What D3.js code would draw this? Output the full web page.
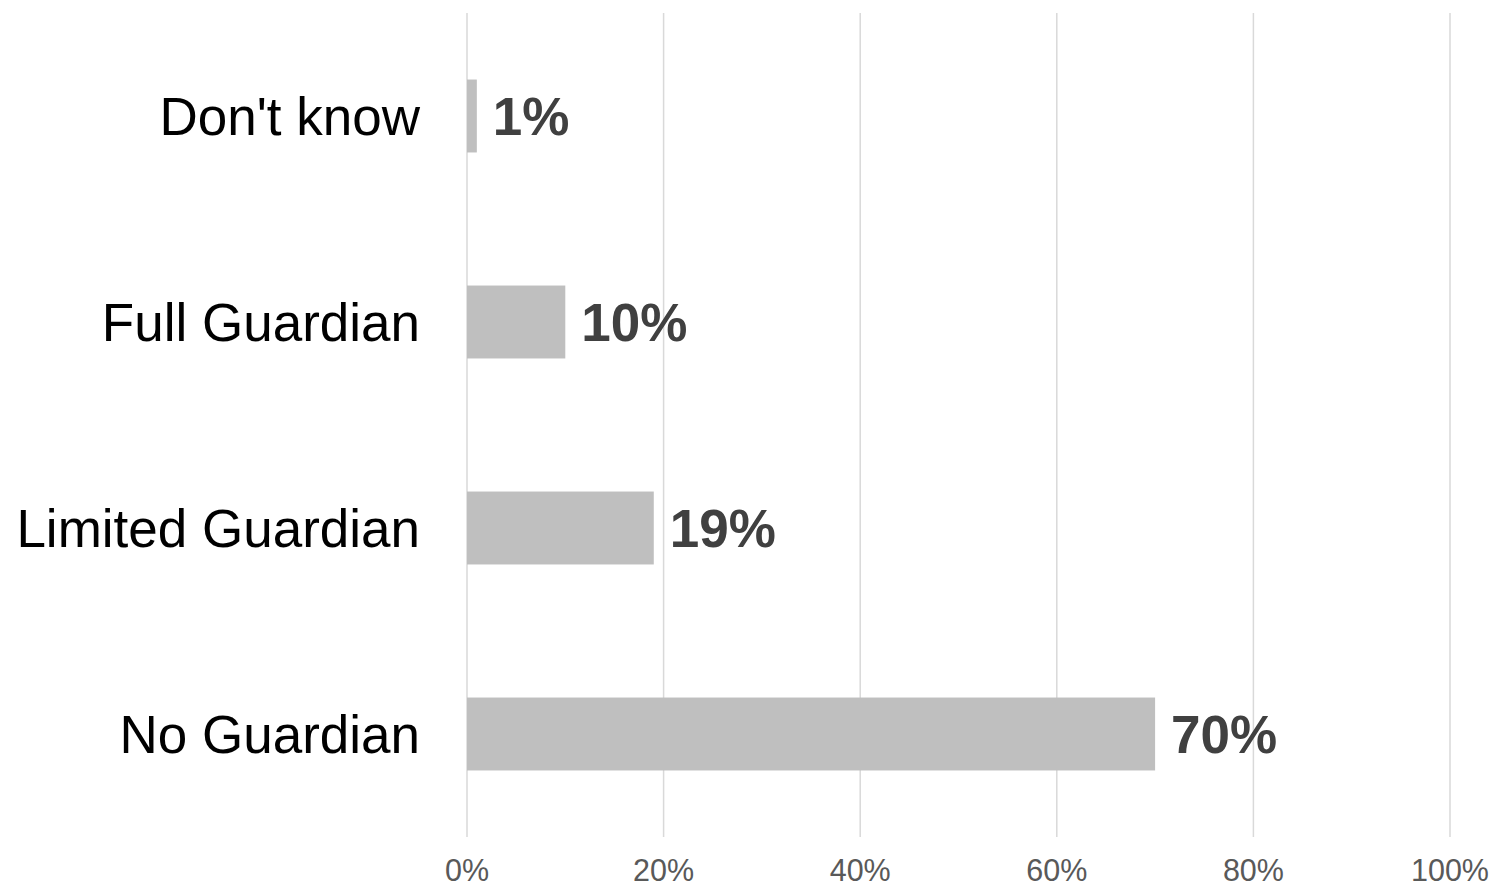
<!DOCTYPE html>
<html>
<head>
<meta charset="utf-8">
<script src="https://cdn.jsdelivr.net/npm/d3@7"></script>
<style>
  html, body { margin: 0; padding: 0; background: #ffffff; }
  svg { display: block; font-family: "Liberation Sans", Arial, sans-serif; }
</style>
</head>
<body>
<svg id="chart" width="1495" height="890"></svg>
<script>
// Survey responses: guardianship status
const categories = ["Don't know", "Full Guardian", "Limited Guardian", "No Guardian"];
const values = [1, 10, 19, 70];
const tickValues = [0, 20, 40, 60, 80, 100];

const svg = d3.select("#chart");

const x = d3.scaleLinear().domain([0, 100]).range([467, 1450]);
const y = d3.scaleBand()
  .domain(categories)
  .range([13, 837])
  .paddingInner(0.646)
  .paddingOuter(0.323);

// vertical gridlines
svg.append("g")
  .selectAll("line")
  .data(tickValues)
  .join("line")
  .attr("x1", d => x(d))
  .attr("x2", d => x(d))
  .attr("y1", 13)
  .attr("y2", 837)
  .attr("stroke", "#d9d9d9")
  .attr("stroke-width", 1.5);

// x axis tick labels
svg.append("g")
  .selectAll("text")
  .data(tickValues)
  .join("text")
  .attr("x", d => x(d))
  .attr("y", 881)
  .attr("text-anchor", "middle")
  .attr("font-size", 30.5)
  .attr("fill", "#595959")
  .text(d => d + "%");

const data = categories.map((c, i) => ({ cat: c, val: values[i] }));

// bars
svg.append("g")
  .selectAll("rect")
  .data(data)
  .join("rect")
  .attr("x", x(0))
  .attr("y", d => y(d.cat))
  .attr("width", d => x(d.val) - x(0))
  .attr("height", y.bandwidth())
  .attr("fill", "#bfbfbf");

// value labels
svg.append("g")
  .selectAll("text")
  .data(data)
  .join("text")
  .attr("x", d => x(d.val) + 16)
  .attr("y", d => y(d.cat) + y.bandwidth() / 2)
  .attr("dy", "0.36em")
  .attr("font-size", 53)
  .attr("font-weight", "bold")
  .attr("fill", "#404040")
  .text(d => d.val + "%");

// category labels
svg.append("g")
  .selectAll("text")
  .data(categories)
  .join("text")
  .attr("x", 420)
  .attr("y", d => y(d) + y.bandwidth() / 2)
  .attr("dy", "0.36em")
  .attr("text-anchor", "end")
  .attr("font-size", 53)
  .attr("fill", "#000000")
  .text(d => d);
</script>
</body>
</html>
